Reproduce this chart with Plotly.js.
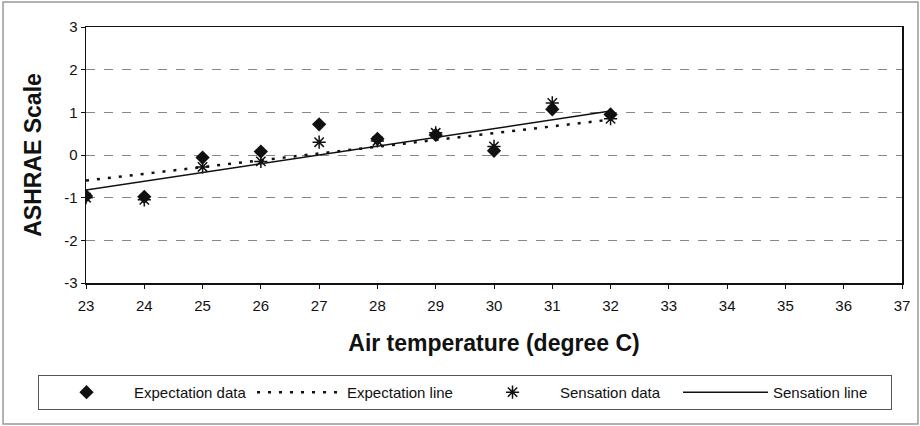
<!DOCTYPE html>
<html>
<head>
<meta charset="utf-8">
<script src="https://cdn.plot.ly/plotly-3.0.1.min.js"></script>
<style>html,body{margin:0;padding:0;background:#fff;}#chart{width:920px;height:426px;}</style>
</head>
<body>
<div id="chart"></div>
<script>
// Data
const temps = [23, 24, 25, 26, 27, 28, 29, 30, 31, 32];
const expectationData = [-0.96, -0.98, -0.06, 0.08, 0.72, 0.38, 0.47, 0.10, 1.07, 0.95];
const sensationData = [-1.00, -1.05, -0.28, -0.15, 0.30, 0.33, 0.52, 0.20, 1.22, 0.85];
const lineTemps = [23, 32];
const expectationLine = [-0.60, 0.83];
const sensationLine = [-0.82, 1.03];
const xTicks = [23,24,25,26,27,28,29,30,31,32,33,34,35,36,37];
const yTicks = [-3,-2,-1,0,1,2,3];

const baseFont = "Liberation Sans, Arial, sans-serif";

const traces = [
  {x: temps, y: expectationData, name: 'Expectation data', type: 'scatter', mode: 'markers',
   marker: {symbol: 'diamond', size: 11, color: '#111'}},
  {x: lineTemps, y: expectationLine, name: 'Expectation line', type: 'scatter', mode: 'lines',
   line: {dash: '3px,8px', width: 2.5, color: '#111'}},
  {x: temps, y: sensationData, name: 'Sensation data', type: 'scatter', mode: 'markers',
   marker: {symbol: 'asterisk-open', size: 11, color: '#111', line: {width: 1.5, color: '#111'}}},
  {x: lineTemps, y: sensationLine, name: 'Sensation line', type: 'scatter', mode: 'lines',
   line: {dash: 'solid', width: 1.5, color: '#111'}}
];

const layout = {
  width: 920, height: 426,
  margin: {l: 86, r: 18, t: 27, b: 143},
  paper_bgcolor: '#fff', plot_bgcolor: '#fff',
  font: {family: baseFont, size: 14, color: '#111'},
  showlegend: true,
  xaxis: {
    range: [23, 37], tickvals: xTicks, ticktext: xTicks.map(String),
    showline: true, mirror: true, linecolor: '#111', linewidth: 1.5,
    ticks: 'outside', ticklen: 4, tickcolor: '#111',
    showgrid: false, zeroline: false, ticklabelstandoff: 4,
    tickfont: {size: 15},
    title: {text: 'Air temperature (degree C)', standoff: 22,
            font: {size: 23, color: '#111', weight: 'bold'}}
  },
  yaxis: {
    range: [-3, 3], tickvals: yTicks, ticktext: yTicks.map(String),
    showline: true, mirror: true, linecolor: '#111', linewidth: 1.5,
    ticks: 'outside', ticklen: 4, tickcolor: '#111',
    showgrid: true, gridcolor: '#888', griddash: 'dash', gridwidth: 1,
    zeroline: false,
    tickfont: {size: 15},
    title: {text: 'ASHRAE Scale', standoff: 16,
            font: {size: 23, color: '#111', weight: 'bold'}}
  },
  legend: {
    orientation: 'h', x: -0.0588, y: -0.359, xanchor: 'left', yanchor: 'top',
    bordercolor: '#555', borderwidth: 1, bgcolor: '#fff',
    font: {size: 15}, entrywidth: 113, entrywidthmode: 'pixels', itemwidth: 85
  },
  shapes: [
    {type: 'rect', xref: 'paper', yref: 'paper', x0: -0.1017, x1: 1.0196, y0: 1.0977, y1: -0.5508,
     line: {color: '#999', width: 1.5}, fillcolor: 'rgba(0,0,0,0)', layer: 'below'}
  ]
};

Plotly.newPlot('chart', traces, layout, {displayModeBar: false, staticPlot: true});
</script>
</body>
</html>
